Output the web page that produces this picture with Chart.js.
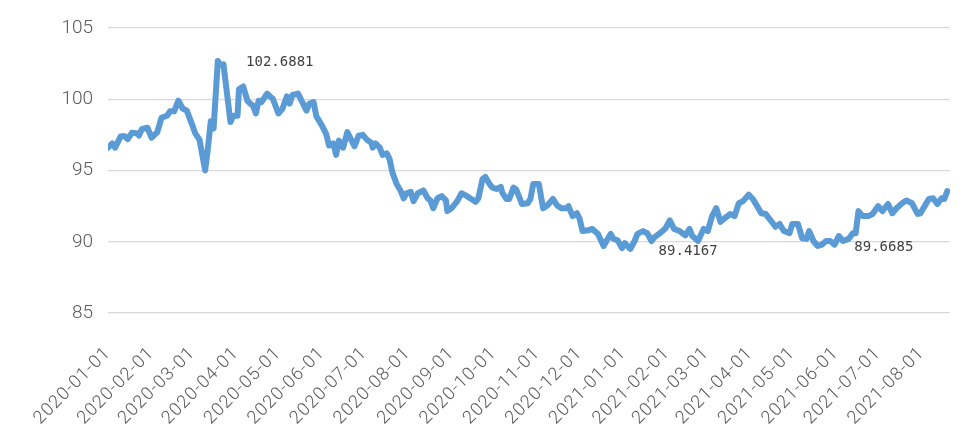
<!DOCTYPE html>
<html>
<head>
<meta charset="utf-8">
<script src="https://cdn.jsdelivr.net/npm/chart.js@4.4.1/dist/chart.umd.min.js"></script>
<style>
  html, body { margin: 0; padding: 0; background: #ffffff; }
  #wrap { width: 980px; height: 443px; position: relative; }
</style>
</head>
<body>
<div id="wrap"><canvas id="c" width="980" height="443"></canvas></div>
<script>
// ---- data ----
const dates = [
 '2020-01-01','2020-01-04','2020-01-06','2020-01-10','2020-01-13','2020-01-15','2020-01-18','2020-01-22','2020-01-23','2020-01-25',
 '2020-01-29','2020-02-01','2020-02-05','2020-02-08','2020-02-12','2020-02-14','2020-02-17','2020-02-20','2020-02-23','2020-02-26',
 '2020-03-01','2020-03-03','2020-03-06','2020-03-10','2020-03-12','2020-03-14','2020-03-16','2020-03-19','2020-03-21','2020-03-23',
 '2020-03-28','2020-03-30','2020-04-02','2020-04-03','2020-04-06','2020-04-09','2020-04-11','2020-04-13','2020-04-15','2020-04-17',
 '2020-04-19','2020-04-23','2020-04-25','2020-04-27','2020-05-01','2020-05-04','2020-05-07','2020-05-09','2020-05-11','2020-05-15',
 '2020-05-18','2020-05-21','2020-05-23','2020-05-26','2020-05-28','2020-06-01','2020-06-04','2020-06-06','2020-06-09','2020-06-11',
 '2020-06-13','2020-06-16','2020-06-19','2020-06-24','2020-06-27','2020-06-30','2020-07-03','2020-07-06','2020-07-07','2020-07-09',
 '2020-07-12','2020-07-14','2020-07-17','2020-07-19','2020-07-21','2020-07-24','2020-07-27','2020-07-29','2020-07-31','2020-08-03',
 '2020-08-05','2020-08-08','2020-08-12','2020-08-15','2020-08-17','2020-08-19','2020-08-22','2020-08-25','2020-08-28','2020-08-29',
 '2020-09-01','2020-09-05','2020-09-08','2020-09-12','2020-09-15','2020-09-18','2020-09-20','2020-09-23','2020-09-25','2020-09-28',
 '2020-09-30','2020-10-03','2020-10-06','2020-10-07','2020-10-10','2020-10-12','2020-10-15','2020-10-17','2020-10-21','2020-10-25',
 '2020-10-27','2020-10-29','2020-11-02','2020-11-05','2020-11-08','2020-11-12','2020-11-15','2020-11-18','2020-11-22','2020-11-23',
 '2020-11-26','2020-11-29','2020-12-01','2020-12-03','2020-12-07','2020-12-10','2020-12-14','2020-12-18','2020-12-20','2020-12-23',
 '2020-12-25','2020-12-28','2020-12-31','2021-01-02','2021-01-06','2021-01-09','2021-01-11','2021-01-15','2021-01-18','2021-01-21',
 '2021-01-23','2021-01-27','2021-01-31','2021-02-03','2021-02-06','2021-02-10','2021-02-14','2021-02-17','2021-02-19','2021-02-23',
 '2021-02-27','2021-03-02','2021-03-05','2021-03-08','2021-03-11','2021-03-14','2021-03-18','2021-03-21','2021-03-24','2021-03-27',
 '2021-03-31','2021-04-03','2021-04-06','2021-04-09','2021-04-12','2021-04-16','2021-04-19','2021-04-22','2021-04-25','2021-04-29',
 '2021-05-01','2021-05-05','2021-05-08','2021-05-11','2021-05-13','2021-05-16','2021-05-19','2021-05-22','2021-05-25','2021-05-28',
 '2021-05-31','2021-06-03','2021-06-06','2021-06-10','2021-06-13','2021-06-15','2021-06-17','2021-06-20','2021-06-24','2021-06-27',
 '2021-07-01','2021-07-04','2021-07-08','2021-07-11','2021-07-14','2021-07-18','2021-07-21','2021-07-25','2021-07-29','2021-07-31',
 '2021-08-03','2021-08-06','2021-08-09','2021-08-12','2021-08-15','2021-08-17','2021-08-19'
];
const values = [
 96.6,96.9,96.6,97.4,97.4,97.2,97.65,97.6,97.45,97.9,
 98.0,97.3,97.7,98.7,98.85,99.15,99.15,99.9,99.35,99.2,
 98.15,97.6,97.15,95.0,96.6,98.45,97.95,102.69,102.4,102.45,
 98.4,98.85,98.85,100.7,100.9,99.9,99.7,99.55,99.0,99.9,
 99.8,100.4,100.2,100.05,99.0,99.35,100.2,99.7,100.3,100.4,
 99.8,99.2,99.7,99.8,98.8,98.15,97.55,96.75,96.9,96.1,
 97.1,96.6,97.7,96.7,97.45,97.5,97.15,96.95,96.6,96.9,
 96.6,96.1,96.2,95.8,94.85,94.05,93.55,93.05,93.4,93.5,
 92.85,93.4,93.6,93.05,92.9,92.35,93.05,93.2,92.9,92.15,
 92.35,92.85,93.4,93.2,93.0,92.8,93.05,94.4,94.55,94.05,
 93.8,93.7,93.85,93.45,93.0,93.0,93.8,93.65,92.65,92.7,
 93.0,94.05,94.05,92.35,92.55,93.0,92.55,92.35,92.35,92.5,
 91.8,92.0,91.6,90.75,90.8,90.9,90.55,89.7,90.05,90.55,
 90.2,90.1,89.55,89.9,89.5,90.05,90.55,90.75,90.6,90.05,
 90.3,90.6,90.95,91.5,90.9,90.75,90.45,90.9,90.4,90.05,
 90.9,90.75,91.8,92.35,91.4,91.65,91.95,91.8,92.7,92.85,
 93.3,93.0,92.5,92.0,91.95,91.45,91.05,91.25,90.75,90.6,
 91.25,91.25,90.25,90.2,90.75,90.05,89.7,89.8,90.05,90.05,
 89.8,90.4,90.05,90.2,90.6,90.6,92.15,91.8,91.8,91.95,
 92.5,92.15,92.65,92.0,92.35,92.7,92.9,92.7,91.95,92.0,
 92.5,93.0,93.05,92.65,93.05,93.0,93.55
];
const tickLabels = [
 '2020-01-01','2020-02-01','2020-03-01','2020-04-01','2020-05-01','2020-06-01','2020-07-01','2020-08-01',
 '2020-09-01','2020-10-01','2020-11-01','2020-12-01','2021-01-01','2021-02-01','2021-03-01','2021-04-01',
 '2021-05-01','2021-06-01','2021-07-01','2021-08-01'
];
const axisRange = ['2020-01-01', '2021-08-21'];
const yTicks = [85, 90, 95, 100, 105];
const noteTexts = ['102.6881', '89.4167', '89.6685'];
const noteDates = ['2020-05-02', '2021-02-16', '2021-07-05'];
const noteValues = [102.6881, 89.4167, 89.6685];

// ---- helpers ----
const BASE = Date.UTC(2020, 0, 1);
function dayOf(s) {
  const p = s.split('-').map(Number);
  return Math.round((Date.UTC(p[0], p[1] - 1, p[2]) - BASE) / 86400000);
}
const points = dates.map((d, i) => ({ x: dayOf(d), y: values[i] }));
const tickDays = tickLabels.map(dayOf);

const notesPlugin = {
  id: 'notes',
  afterLayout(chart) {
    const s = chart.scales.x;
    if (s._spacedWrap) return;
    const orig = s.drawLabels.bind(s);
    s.drawLabels = function (area) {
      const ctx = chart.ctx;
      ctx.save();
      ctx.letterSpacing = '1px';
      orig(area);
      ctx.restore();
    };
    s._spacedWrap = true;
  },
  afterDatasetsDraw(chart) {
    const ctx = chart.ctx;
    const xs = chart.scales.x, ys = chart.scales.y;
    ctx.save();
    ctx.font = '14px "DejaVu Sans Mono", monospace';
    ctx.fillStyle = '#404040';
    ctx.textAlign = 'center';
    ctx.textBaseline = 'middle';
    noteTexts.forEach((t, i) => {
      ctx.fillText(t, xs.getPixelForValue(dayOf(noteDates[i])), ys.getPixelForValue(noteValues[i]) + 1);
    });
    ctx.restore();
  }
};

new Chart(document.getElementById('c'), {
  type: 'line',
  data: {
    datasets: [{
      data: points,
      borderColor: '#5b9bd5',
      borderWidth: 6,
      pointRadius: 0,
      pointHoverRadius: 0,
      tension: 0,
      borderJoinStyle: 'round',
      borderCapStyle: 'round',
      fill: false
    }]
  },
  options: {
    responsive: false,
    animation: false,
    events: [],
    layout: { padding: { left: 8, right: 30, top: 28, bottom: 0 } },
    plugins: { legend: { display: false }, tooltip: { enabled: false } },
    scales: {
      x: {
        type: 'linear',
        min: dayOf(axisRange[0]),
        max: dayOf(axisRange[1]),
        afterBuildTicks: (s) => { s.ticks = tickDays.map(v => ({ value: v })); },
        afterFit: (s) => { s.height = 130; },
        grid: { display: false },
        border: { display: false },
        ticks: {
          autoSkip: false,
          minRotation: 45,
          maxRotation: 45,
          padding: 22,
          color: '#595959',
          font: { family: 'Roboto', size: 18, weight: '300' },
          callback: (v) => { const i = tickDays.indexOf(v); return i >= 0 ? tickLabels[i] : ''; }
        }
      },
      y: {
        min: 85,
        max: 105,
        afterBuildTicks: (s) => { s.ticks = yTicks.map(v => ({ value: v })); },
        afterFit: (s) => { s.width = 100; },
        grid: { color: '#d9d9d9', lineWidth: 1.3, drawTicks: false },
        border: { display: false },
        ticks: {
          padding: 15,
          color: '#595959',
          font: { family: 'Roboto', size: 19, weight: '300' }
        }
      }
    }
  },
  plugins: [notesPlugin]
});
</script>
</body>
</html>
